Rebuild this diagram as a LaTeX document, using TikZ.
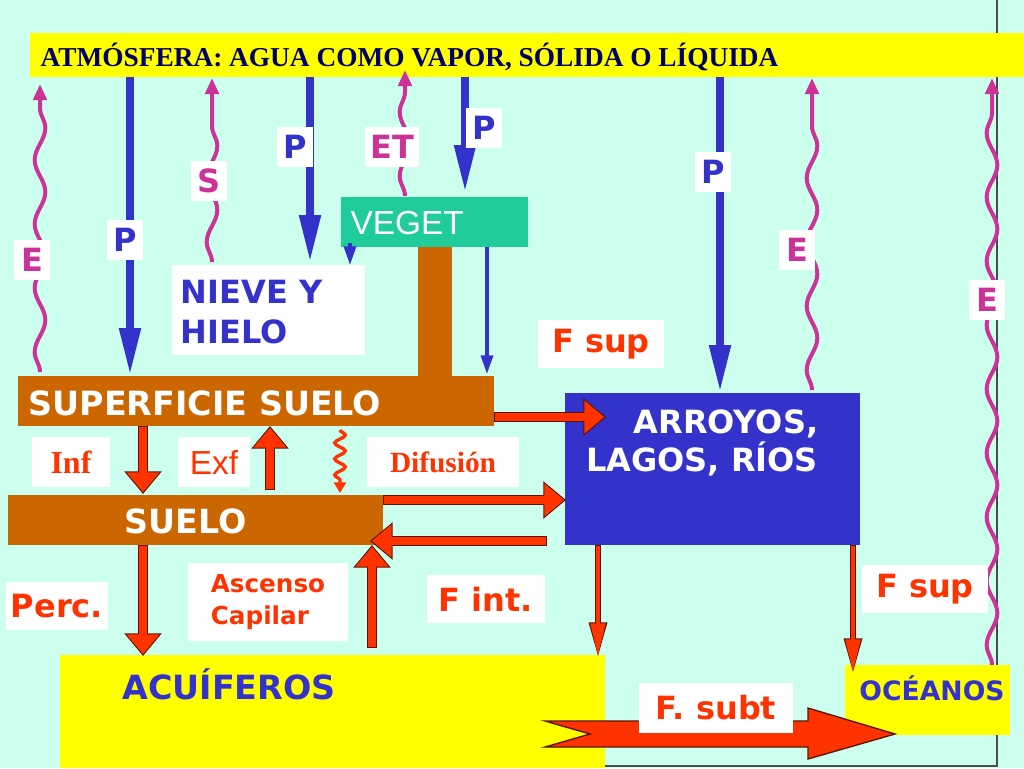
\documentclass[tikz,border=0pt]{standalone}
\usepackage{fontspec}
\setmainfont{Liberation Serif}
\setsansfont{DejaVu Sans}
\newfontfamily\arialf{Liberation Sans}
\usetikzlibrary{arrows.meta,decorations.pathmorphing}
\definecolor{bg}{RGB}{204,255,238}
\definecolor{yel}{RGB}{255,255,0}
\definecolor{bl}{RGB}{51,51,204}
\definecolor{br}{RGB}{204,102,0}
\definecolor{tl}{RGB}{32,204,153}
\definecolor{pk}{RGB}{204,51,153}
\definecolor{rd}{RGB}{255,51,0}
\definecolor{dr}{RGB}{90,20,0}
\definecolor{nv}{RGB}{0,0,102}
\tikzset{
 px/.style={x=0.75pt,y=-0.75pt},
 lab/.style={fill=white,inner sep=3pt,font=\sffamily\bfseries\fontsize{24}{26}\selectfont},
 big/.style={font=\sffamily\bfseries\fontsize{25}{28}\selectfont},
 pdown/.style={draw=bl,line width=6pt,-{Triangle[length=36pt,width=15pt]}},
 pthin/.style={draw=bl,line width=2.5pt,-{Triangle[length=14pt,width=9pt]}},
 wave/.style={draw=pk,line width=3pt,decorate,decoration={snake,amplitude=4pt,segment length=48pt,post length=14pt},-{Triangle[length=12pt,width=10pt]}},
 rarr/.style={draw=dr,line width=7pt,-{Triangle[length=17pt,width=27pt]}},
 rarri/.style={draw=rd,line width=5.6pt,-{Triangle[length=15pt,width=24pt]}},
 rthin/.style={draw=dr,line width=4pt,-{Triangle[length=26pt,width=13pt]}},
 rthini/.style={draw=rd,line width=2.6pt,-{Triangle[length=24pt,width=11pt]}},
}
\begin{document}
\begin{tikzpicture}[px]
\useasboundingbox (0,0) rectangle (1024,768);
\fill[bg] (0,0) rectangle (1024,768);
\draw[black!70,line width=0.8pt] (997,0) -- (997,766) -- (605,766);
\fill[yel] (30,33) rectangle (1024,77);
\node[anchor=west,text=nv,font=\bfseries\fontsize{20.5}{22}\selectfont] (atm) at (36,57) {ATMÓSFERA: AGUA COMO VAPOR, SÓLIDA O LÍQUIDA};
\fill[tl] (341,197) rectangle (528,247);
\node[anchor=west,text=white,font=\arialf\fontsize{25}{26}\selectfont] (veget) at (346,223) {VEGET};
\fill[br] (418,247) rectangle (452,376);
\fill[br] (18,376) rectangle (494,426);
\node[anchor=west,text=white,big] (sup) at (24,403) {SUPERFICIE SUELO};
\fill[br] (8,495) rectangle (383,545);
\node[anchor=west,text=white,big] (suelo) at (120,521) {SUELO};
\fill[white] (172,265) rectangle (365,355);
\node[anchor=west,text=bl,align=left,big,font=\sffamily\bfseries\fontsize{24}{30}\selectfont] (nieve) at (176,312) {NIEVE Y\\HIELO};
\fill[bl] (565,393) rectangle (860,545);
\node[text=white,align=center,big,font=\sffamily\bfseries\fontsize{24}{28}\selectfont] (rios) at (702,443) {\hspace*{1.5em}ARROYOS,\\LAGOS, RÍOS};
\fill[yel] (60,655) rectangle (605,768);
\node[text=bl,big] (acu) at (229,684) {ACUÍFEROS};
\fill[yel] (845,665) rectangle (1010,735);
\node[text=bl,font=\sffamily\bfseries\fontsize{20}{22}\selectfont] (oce) at (932,688) {OCÉANOS};
\coordinate (p1a) at (130,77); \coordinate (p1b) at (130,376);
\coordinate (p2a) at (310,77); \coordinate (p2b) at (310,263);
\coordinate (p3a) at (465,77); \coordinate (p3b) at (465,193);
\coordinate (p4a) at (720,77); \coordinate (p4b) at (720,393);
\draw[pdown] (p1a) -- (p1b);
\draw[pdown] (p2a) -- (p2b);
\draw[pdown] (p3a) -- (p3b);
\draw[pdown] (p4a) -- (p4b);
\coordinate (v1) at (350,243); \coordinate (v2) at (350,265);
\draw[pthin] (v1) -- (v2);
\coordinate (v3) at (487,247); \coordinate (v4) at (487,374);
\draw[pthin] (v3) -- (v4);
\draw[wave] (40,372) -- (40,84);
\draw[wave] (212,262) -- (212,78);
\draw[wave] (405,196) -- (405,70);
\draw[wave] (812,390) -- (812,78);
\draw[wave] (992,665) -- (992,78);
\node[lab,text=pk,minimum width=27pt,minimum height=30pt] (e1) at (32,260) {E};
\node[lab,text=bl,minimum width=27pt,minimum height=30pt] (pl1) at (125,240) {P};
\node[lab,text=pk,minimum width=27pt,minimum height=30pt] (s) at (209,181) {S};
\node[lab,text=bl,minimum width=27pt,minimum height=30pt] (pl2) at (295,147) {P};
\node[lab,text=pk,minimum width=40pt,minimum height=30pt] (et) at (392,147) {ET};
\node[lab,text=bl,minimum width=27pt,minimum height=30pt] (pl3) at (484,128) {P};
\node[lab,text=bl,minimum width=27pt,minimum height=30pt] (pl4) at (713,172) {P};
\node[lab,text=pk,minimum width=27pt,minimum height=30pt] (e2) at (797,250) {E};
\node[lab,text=pk,minimum width=27pt,minimum height=30pt] (e3) at (987,300) {E};
\node[lab,text=rd,minimum width=94pt,minimum height=36pt] (fsup1) at (601,344) {F sup};
\node[lab,text=rd,font=\bfseries\fontsize{24}{24}\selectfont,minimum width=58pt,minimum height=38pt] (inf) at (71,462) {Inf};
\node[lab,text=rd,font=\arialf\fontsize{25}{24}\selectfont,minimum width=54pt,minimum height=38pt] (exf) at (214,462) {Exf};
\node[lab,text=rd,font=\bfseries\fontsize{22}{22}\selectfont,minimum width=114pt,minimum height=38pt] (dif) at (443,462) {Difusión};
\node[lab,text=rd,minimum width=77pt,minimum height=36pt] (perc) at (57,606) {Perc.};
\node[lab,text=rd,align=left,font=\sffamily\bfseries\fontsize{18.5}{24}\selectfont,minimum width=120pt,minimum height=58pt] (asc) at (268,602) {Ascenso\\Capilar};
\node[lab,text=rd,minimum width=88pt,minimum height=36pt] (fint) at (486,599) {F int.};
\node[lab,text=rd,minimum width=94pt,minimum height=36pt] (fsup2) at (925,589) {F sup};
\coordinate (r1a) at (494,417); \coordinate (r1b) at (606,417);
\coordinate (r2a) at (143,426); \coordinate (r2b) at (143,494);
\coordinate (r3a) at (270,490); \coordinate (r3b) at (270,426);
\coordinate (r4a) at (383,500); \coordinate (r4b) at (566,500);
\coordinate (r5a) at (547,541); \coordinate (r5b) at (370,541);
\coordinate (r6a) at (143,545); \coordinate (r6b) at (143,656);
\coordinate (r7a) at (372,648); \coordinate (r7b) at (372,545);
\foreach \a/\b in {r1a/r1b,r2a/r2b,r3a/r3b,r4a/r4b,r5a/r5b,r6a/r6b,r7a/r7b}{
 \draw[rarr] (\a) -- (\b);
 \draw[rarri,shorten >=1.3pt,shorten <=0.7pt] (\a) -- (\b);
}
\draw[draw=rd,line width=2.5pt,decorate,decoration={snake,amplitude=4pt,segment length=12pt,post length=8pt},-{Triangle[length=8pt,width=9pt]}] (340,430) -- (340,493);
\coordinate (r8a) at (598,545); \coordinate (r8b) at (598,657);
\coordinate (r9a) at (853,545); \coordinate (r9b) at (853,673);
\foreach \a/\b in {r8a/r8b,r9a/r9b}{
 \draw[rthin] (\a) -- (\b);
 \draw[rthini,shorten >=1.2pt,shorten <=0.7pt] (\a) -- (\b);
}
\fill[rd,draw=dr,line width=1pt] (545,721) -- (808,721) -- (808,708) -- (895,734) -- (808,759) -- (808,747) -- (545,747) -- (590,734) -- cycle;
\node[lab,text=rd,minimum width=115pt,minimum height=37pt] (fsubt) at (716,708) {F. subt};
\end{tikzpicture}
\end{document}
